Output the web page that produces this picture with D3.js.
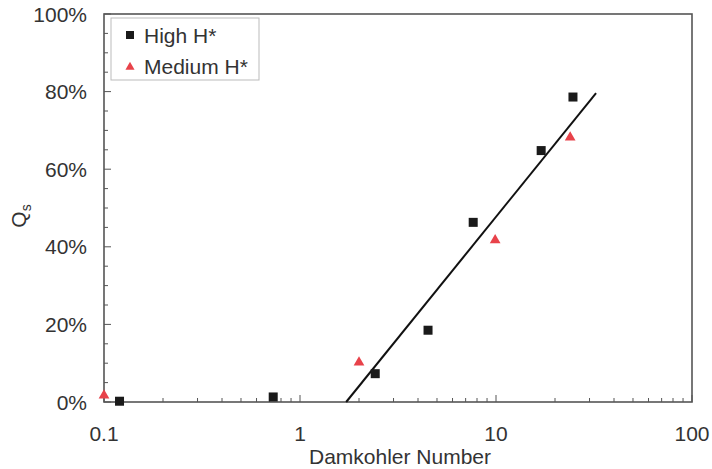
<!DOCTYPE html>
<html>
<head>
<meta charset="utf-8">
<script src="https://cdn.jsdelivr.net/npm/d3@7"></script>
<style>
  body { margin: 0; background: #fff; }
  text { font-family: "Liberation Sans", Arial, sans-serif; fill: #333; }
</style>
</head>
<body>
<script>
let w = 712;
let h = 469;

// data (x = Damkohler number, y = Qs in %)
let highX = [0.12, 0.73, 2.42, 4.5, 7.65, 17.0, 24.7];
let highY = [0.2, 1.3, 7.3, 18.5, 46.3, 64.8, 78.6];
let medX = [0.1, 2.0, 9.9, 23.9];
let medY = [1.7, 10.2, 41.7, 68.2];
let fitX = [1.72, 32.4];
let fitY = [0, 79.6];
let xTicks = [0.1, 1, 10, 100];
let yTicks = [0, 20, 40, 60, 80, 100];

let mLeft = 104, mRight = 692, mTop = 14, mBottom = 402;
let fs = "21px";

let xScale = d3.scaleLog()
    .domain([0.1, 100])
    .range([mLeft, mRight])

let yScale = d3.scaleLinear()
    .domain([0, 100])
    .range([mBottom, mTop])

let svg = d3.select("body")
    .append("svg")
    .attr("width", w)
    .attr("height", h)

// minor ticks, inward
let xMinor = [];
[0.1, 1, 10].forEach(d => { for (let k = 2; k <= 9; k++) xMinor.push(d * k) });
let yMinor = d3.range(5, 100, 5).filter(d => d % 20 !== 0);

svg.selectAll(".xminor")
    .data(xMinor)
    .enter()
    .append("line")
    .attr("x1", d => xScale(d))
    .attr("x2", d => xScale(d))
    .attr("y1", mBottom)
    .attr("y2", mBottom - 4)
    .attr("stroke", "#555")

svg.selectAll(".xmajor")
    .data(xTicks)
    .enter()
    .append("line")
    .attr("x1", d => xScale(d))
    .attr("x2", d => xScale(d))
    .attr("y1", mBottom)
    .attr("y2", mBottom - 7)
    .attr("stroke", "#555")

svg.selectAll(".yminor")
    .data(yMinor)
    .enter()
    .append("line")
    .attr("x1", mLeft)
    .attr("x2", mLeft + 4)
    .attr("y1", d => yScale(d))
    .attr("y2", d => yScale(d))
    .attr("stroke", "#555")

svg.selectAll(".ymajor")
    .data(yTicks)
    .enter()
    .append("line")
    .attr("x1", mLeft)
    .attr("x2", mLeft + 7)
    .attr("y1", d => yScale(d))
    .attr("y2", d => yScale(d))
    .attr("stroke", "#555")

// frame
svg.append("rect")
    .attr("x", mLeft)
    .attr("y", mTop)
    .attr("width", mRight - mLeft)
    .attr("height", mBottom - mTop)
    .attr("fill", "none")
    .attr("stroke", "#555")
    .attr("stroke-width", 1.6)

// tick labels
svg.selectAll(".xlab")
    .data(xTicks)
    .enter()
    .append("text")
    .text(d => d)
    .attr("x", d => xScale(d))
    .attr("y", 441)
    .attr("font-size", fs)
    .attr("text-anchor", "middle")

svg.selectAll(".ylab")
    .data(yTicks)
    .enter()
    .append("text")
    .text(d => d + "%")
    .attr("x", 87)
    .attr("y", d => yScale(d) + 7.5)
    .attr("font-size", fs)
    .attr("text-anchor", "end")

svg.append("text")
    .text("Damkohler Number")
    .attr("x", xScale(Math.sqrt(10)) + 2)
    .attr("y", 464)
    .attr("font-size", fs)
    .attr("text-anchor", "middle")

let ylab = svg.append("text")
    .attr("transform", "translate(26,216) rotate(-90)")
    .attr("font-size", fs)
    .attr("text-anchor", "middle")
ylab.append("tspan").text("Q")
ylab.append("tspan").text("s").attr("font-size", "14px").attr("dy", 5)

// fit line
svg.append("line")
    .attr("x1", xScale(fitX[0]))
    .attr("y1", yScale(fitY[0]))
    .attr("x2", xScale(fitX[1]))
    .attr("y2", yScale(fitY[1]))
    .attr("stroke", "#111")
    .attr("stroke-width", 2)

// markers
let sq = 9;
svg.selectAll(".high")
    .data(highX)
    .enter()
    .append("rect")
    .attr("x", (d, i) => xScale(d) - sq / 2)
    .attr("y", (d, i) => yScale(highY[i]) - sq / 2)
    .attr("width", sq)
    .attr("height", sq)
    .attr("fill", "#1a1a1a")

let tri = d3.symbol().type(d3.symbolTriangle).size(50)
svg.selectAll(".med")
    .data(medX)
    .enter()
    .append("path")
    .attr("d", tri)
    .attr("transform", (d, i) => `translate(${xScale(d)},${yScale(medY[i])})`)
    .attr("fill", "#e8424a")

// legend
let lg = svg.append("g").attr("transform", "translate(111,18)")
lg.append("rect")
    .attr("width", 148)
    .attr("height", 62)
    .attr("fill", "#fff")
    .attr("stroke", "#bbb")
lg.append("rect")
    .attr("x", 15)
    .attr("y", 13)
    .attr("width", 8)
    .attr("height", 8)
    .attr("fill", "#1a1a1a")
lg.append("path")
    .attr("d", d3.symbol().type(d3.symbolTriangle).size(36))
    .attr("transform", "translate(19,49)")
    .attr("fill", "#e8424a")
lg.append("text")
    .text("High H*")
    .attr("x", 33)
    .attr("y", 25)
    .attr("font-size", fs)
lg.append("text")
    .text("Medium H*")
    .attr("x", 33)
    .attr("y", 56)
    .attr("font-size", fs)
</script>
</body>
</html>
